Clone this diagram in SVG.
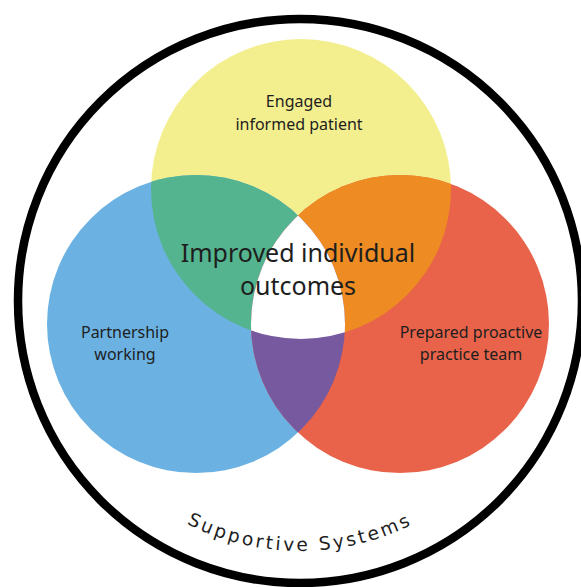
<svg xmlns="http://www.w3.org/2000/svg" xmlns:xlink="http://www.w3.org/1999/xlink" width="581" height="587" viewBox="0 0 581 587">
<style>
.lbl{font-family:"Noto Sans","Open Sans","Liberation Sans",sans-serif;fill:#1e1e1e;text-anchor:middle}
.sm{font-size:16px}
.big{font-size:25px}
.arc{font-family:"DejaVu Sans","Liberation Sans",sans-serif;font-size:18.5px;fill:#1e1e1e;letter-spacing:2.8px}
</style>
<defs>
<clipPath id="cY"><circle cx="301" cy="189" r="150"/></clipPath>
<clipPath id="cB"><circle cx="196" cy="324" r="149"/></clipPath>
<path id="arcPath" d="M 50 301 A 250 250 0 0 0 550 301"/>
</defs>
<rect width="581" height="587" fill="#ffffff"/>
<g id="supportive-systems">
<circle cx="300" cy="301" r="282" fill="none" stroke="#000" stroke-width="8.5"/>
<text class="arc"><textPath xlink:href="#arcPath" href="#arcPath" startOffset="50%" text-anchor="middle">Supportive Systems</textPath></text>
</g>
<g id="engaged-patient">
<circle cx="301" cy="189" r="150" fill="#F3EF8F"/>
<text class="lbl sm" x="299" y="107">Engaged</text>
<text class="lbl sm" x="299" y="130">informed patient</text>
</g>
<g id="partnership">
<circle cx="196" cy="324" r="149" fill="#6BB2E2"/>
</g>
<g id="practice-team">
<circle cx="400" cy="324" r="149" fill="#E8634A"/>
</g>
<g id="overlaps">
<circle cx="196" cy="324" r="149" fill="#54B48F" clip-path="url(#cY)"/>
<circle cx="400" cy="324" r="149" fill="#EE8B22" clip-path="url(#cY)"/>
<circle cx="400" cy="324" r="149" fill="#76599F" clip-path="url(#cB)"/>
<g clip-path="url(#cY)"><circle cx="400" cy="324" r="149" fill="#ffffff" clip-path="url(#cB)"/></g>
</g>
<g id="partnership-label">
<text class="lbl sm" x="125" y="338">Partnership</text>
<text class="lbl sm" x="125" y="360">working</text>
</g>
<g id="practice-team-label">
<text class="lbl sm" x="471" y="338">Prepared proactive</text>
<text class="lbl sm" x="471" y="360">practice team</text>
</g>
<g id="outcomes">
<text class="lbl big" x="298" y="262">Improved individual</text>
<text class="lbl big" x="298" y="295">outcomes</text>
</g>
<g id="connectors"/>
</svg>
